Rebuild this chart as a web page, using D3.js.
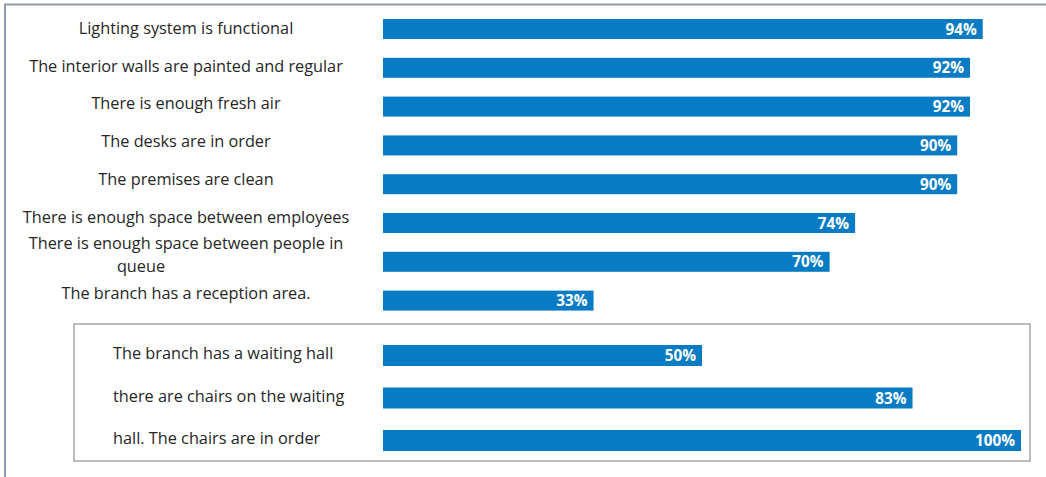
<!DOCTYPE html>
<html>
<head>
<meta charset="utf-8">
<script src="https://cdn.jsdelivr.net/npm/d3@7"></script>
<style>
  body { margin: 0; background: #fff; }
  text { font-family: "Open Sans", Lato, sans-serif; }
</style>
</head>
<body>
<div class="canvas"></div>
<script>
// top block of statements
const topCategories = [
    'Lighting system is functional',
    'The interior walls are painted and regular',
    'There is enough fresh air',
    'The desks are in order',
    'The premises are clean',
    'There is enough space between employees',
    'There is enough space between people in|queue',
    'The branch has a reception area.'
];
const topValues = [94, 92, 92, 90, 90, 74, 70, 33];

// boxed block (waiting hall)
const boxCategories = [
    'The branch has a waiting hall',
    'there are chairs on the waiting',
    'hall. The chairs are in order'
];
const boxValues = [50, 83, 100];

const width = 1046;
const height = 477;
const barColor = '#077bc3';
const labelSize = 16.3;

const svg = d3.select('.canvas')
    .append('svg')
    .attr('width', width)
    .attr('height', height);

// outer frame (left + top edges only)
svg.append('path')
    .attr('d', `M5,${height} L5,4.5 L${width},4.5`)
    .attr('fill', 'none')
    .attr('stroke', '#8a9aa8')
    .attr('stroke-width', 2);

// scales
const x = d3.scaleLinear().domain([0, 100]).range([383, 1021]);

const yTop = d3.scaleBand()
    .domain(topCategories)
    .range([9.6, 320])
    .paddingInner(0.485)
    .paddingOuter(0.2425);

// label positions in top block are slightly tighter than the bars
const yTopLabel = d3.scalePoint()
    .domain(topCategories)
    .range([28, 293]);

const yBox = d3.scaleBand()
    .domain(boxCategories)
    .range([334.25, 461.75])
    .paddingInner(0.506)
    .paddingOuter(0.253);

// box around the waiting hall group
svg.append('rect')
    .attr('x', 74)
    .attr('y', 324)
    .attr('width', 1030 - 74)
    .attr('height', 461 - 324)
    .attr('fill', 'none')
    .attr('stroke', '#a6a6a6')
    .attr('stroke-width', 1.5);

const drawBars = (cats, vals, y, cls) => {
    const g = svg.append('g').attr('class', cls);
    const rows = cats.map((c, i) => ({cat: c, val: vals[i]}));

    g.selectAll('rect')
        .data(rows)
        .enter().append('rect')
        .attr('x', x(0))
        .attr('y', d => y(d.cat))
        .attr('width', d => x(d.val) - x(0))
        .attr('height', y.bandwidth())
        .attr('fill', barColor);

    g.selectAll('text.val')
        .data(rows)
        .enter().append('text')
        .attr('class', 'val')
        .attr('x', d => x(d.val) - 6)
        .attr('y', d => y(d.cat) + y.bandwidth() / 2)
        .attr('dy', '0.37em')
        .attr('text-anchor', 'end')
        .attr('fill', '#fff')
        .attr('font-weight', 'bold')
        .attr('font-size', 15.3)
        .text(d => d.val + '%');
};

drawBars(topCategories, topValues, yTop, 'top');
drawBars(boxCategories, boxValues, yBox, 'box');

// category labels, top block: centered
svg.append('g').selectAll('text')
    .data(topCategories)
    .enter().append('text')
    .attr('x', 186)
    .attr('y', d => yTopLabel(d))
    .attr('text-anchor', 'middle')
    .attr('font-size', labelSize)
    .attr('fill', '#262626')
    .each(function(d) {
        const lines = d.split('|');
        const t = d3.select(this);
        lines.forEach((line, i) => {
            t.append('tspan')
                .attr('x', i === 0 ? 186 : 141)
                .attr('dy', i === 0 ? (0.35 - (lines.length - 1) * 0.7) + 'em' : '1.4em')
                .text(line);
        });
    });

// category labels, boxed block: left aligned
svg.append('g').selectAll('text')
    .data(boxCategories)
    .enter().append('text')
    .attr('x', 113)
    .attr('y', d => yBox(d) + yBox.bandwidth() / 2 - 2)
    .attr('dy', '0.35em')
    .attr('font-size', labelSize)
    .attr('fill', '#262626')
    .text(d => d);
</script>
</body>
</html>
